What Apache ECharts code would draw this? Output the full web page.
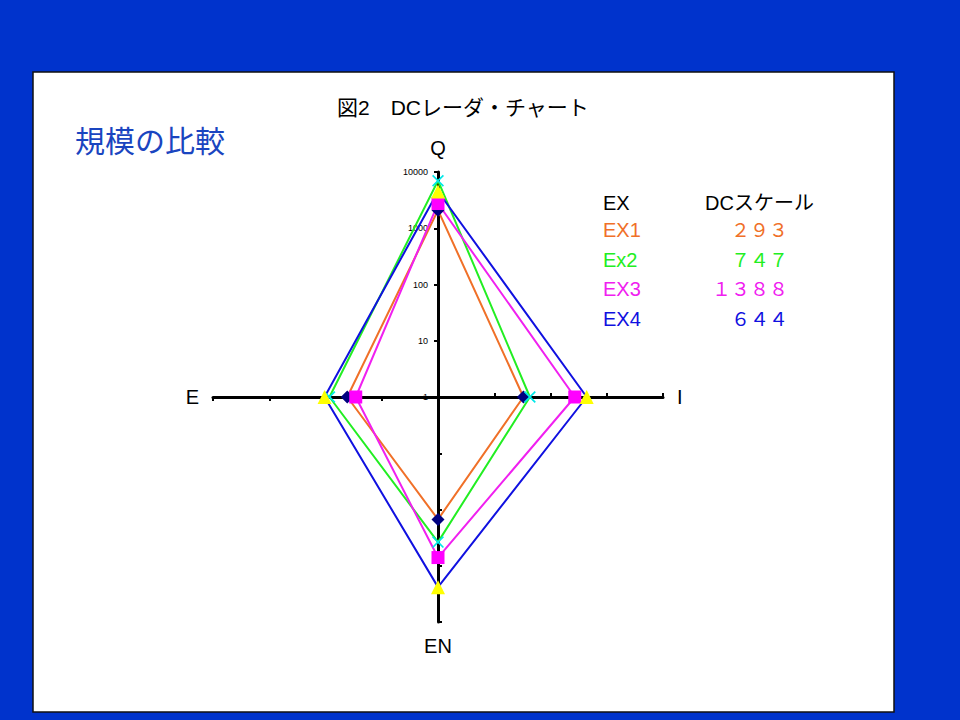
<!DOCTYPE html>
<html>
<head>
<meta charset="utf-8">
<script src="https://cdn.jsdelivr.net/npm/echarts@6/dist/echarts.min.js"></script>
<style>
  html, body { margin: 0; padding: 0; background: #0033cc; }
  #chart { width: 960px; height: 720px; }
</style>
</head>
<body>
<div id="chart"></div>
<script>
// axes go counter-clockwise from the top: Q, E, EN, I
const axes = ['Q', 'E', 'EN', 'I'];
const names = ['EX1', 'Ex2', 'EX3', 'EX4'];
const dcScale = [293, 747, 1388, 644];
const ex1 = [2100, 41, 150, 33];
const ex2 = [7000, 85, 380, 43];
const ex3 = [2750, 29, 715, 270];
const ex4 = [4500, 104, 2400, 440];

const lineColors = ['#f07028', '#22ee22', '#f020f0', '#1010e0'];
const markerColors = ['#000080', '#00e8e8', '#ff00ff', '#ffff00'];
const markers = ['diamond', 'path://M0,1L1,0L5,4L9,0L10,1L6,5L10,9L9,10L5,6L1,10L0,9L4,5Z', 'rect', 'triangle'];
const markerSizes = [13, 12, 13, 14];
const values = [ex1, ex2, ex3, ex4];

const latin = "'Liberation Sans', Arial, sans-serif";
const jp = "'Liberation Sans', 'Noto Sans CJK JP', sans-serif";

// radar has no log axis, so the scale runs in decades (0..4 = 1..10000)
const decades = v => Math.log10(v);

function fullWidth(n) {
  return String(n).replace(/[0-9]/g, d => String.fromCharCode(d.charCodeAt(0) + 0xFEE0));
}

const chart = echarts.init(document.getElementById('chart'), null, { renderer: 'svg' });

const texts = [
  { type: 'text', left: 603, top: 193, style: { text: 'EX', fill: '#000', font: '20px ' + jp } },
  { type: 'text', left: 705, top: 193, style: { text: 'DCスケール', fill: '#000', font: '20px ' + jp } }
];
names.forEach(function (n, i) {
  const y = 220 + i * 29.7;
  texts.push({ type: 'text', left: 603, top: y, style: { text: n, fill: lineColors[i], font: '20px ' + latin } });
  texts.push({ type: 'text', right: 960 - 788, top: y - 1, style: { text: fullWidth(dcScale[i]), fill: lineColors[i], font: '19px ' + "'Noto Sans CJK JP'" } });
});

const option = {
  animation: false,
  backgroundColor: '#0033cc',
  title: {
    text: '図2　DCレーダ・チャート',
    left: 332,
    top: 92,
    textStyle: { fontSize: 21, fontWeight: 'normal', color: '#000', fontFamily: jp }
  },
  graphic: [
    {
      type: 'rect',
      z: -10,
      shape: { x: 33, y: 72, width: 861, height: 640 },
      style: { fill: '#fff', stroke: '#111', lineWidth: 1.5 }
    },
    {
      type: 'text',
      left: 75,
      top: 126,
      style: { text: '規模の比較', fill: '#1a45c0', font: '30px ' + jp }
    }
  ].concat(texts),
  radar: {
    center: [438, 397],
    radius: 225,
    startAngle: 90,
    shape: 'polygon',
    splitNumber: 4,
    nameGap: 14,
    indicator: axes.map(function (n, i) {
      return { name: n, min: 0, max: 4, axisLabel: { show: i === 0 } };
    }),
    axisName: { color: '#000', fontSize: 20, fontFamily: latin },
    axisLine: { lineStyle: { color: '#000', width: 3 } },
    axisTick: { show: true, length: 4, lineStyle: { color: '#000', width: 2 } },
    axisLabel: {
      show: false, fontSize: 9, color: '#000', margin: 10, fontFamily: latin,
      formatter: v => String(Math.round(Math.pow(10, v)))
    },
    splitLine: { show: false },
    splitArea: { show: false }
  },
  series: names.map(function (n, i) {
    return {
      name: n,
      type: 'radar',
      symbol: markers[i],
      symbolSize: markerSizes[i],
      itemStyle: { color: markerColors[i] },
      lineStyle: { color: lineColors[i], width: 2 },
      data: [{ value: values[i].map(decades), name: n }]
    };
  })
};
chart.setOption(option);
</script>
</body>
</html>
